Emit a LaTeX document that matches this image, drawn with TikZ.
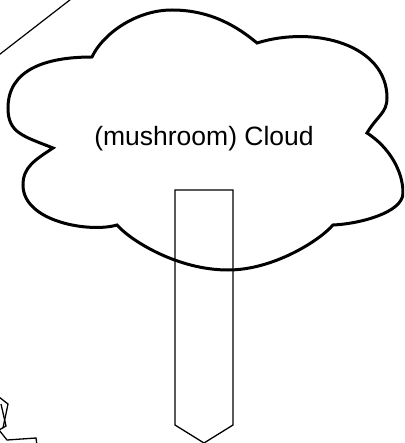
\documentclass[tikz,border=0pt]{standalone}
\usepackage{fontspec}
\setmainfont{Liberation Sans}
\begin{document}
\begin{tikzpicture}[x=1pt,y=-1pt,
  cloudline/.style={draw=black,line width=3pt,line join=miter},
  thinline/.style={draw=black,line width=1.3pt},
  labeltext/.style={font=\fontsize{26.5}{30}\selectfont,anchor=base,inner sep=0pt}]
\useasboundingbox (0,0) rectangle (404,443);
\clip (0,0) rectangle (404,443);
% diagonal line
\coordinate (d1) at (-5,58);
\coordinate (d2) at (75,-4);
\draw[line width=1.2pt] (d1) -- (d2);
% cloud cusps
\coordinate (A) at (53,148);
\coordinate (B) at (92,57);
\coordinate (C) at (257,43);
\coordinate (D) at (367,133);
\coordinate (E) at (333,225);
\coordinate (F) at (117,225);
\draw[cloudline]
  (A) .. controls (23,136) and (8,133) .. (8,108)
      .. controls (8,70) and (45,57) .. (B)
      .. controls (102,35) and (135,10) .. (172,10)
      .. controls (212,10) and (239,28) .. (C)
      .. controls (315,25) and (387,45) .. (387,98)
      .. controls (387,113) and (377,116) .. (D)
      .. controls (389,147) and (403,171) .. (403,193)
      .. controls (403,213) and (358,224) .. (E)
      .. controls (319,241) and (273,270) .. (228,270)
      .. controls (178,270) and (131,241) .. (F)
      .. controls (90,233) and (23,222) .. (23,185)
      .. controls (23,167) and (35,160) .. (A) -- cycle;
\node[labeltext] (lbl) at (204,146) {(mushroom) Cloud};
% stem (signal shape)
\coordinate (s1) at (175,190);
\coordinate (s2) at (233,190);
\coordinate (s3) at (233,425);
\coordinate (s4) at (204,443);
\coordinate (s5) at (175,425);
\draw[thinline,line join=miter] (s1) -- (s2) -- (s3) -- (s4) -- (s5) -- cycle;
% scribble bottom-left
\coordinate (z1) at (-1,397);
\coordinate (z2) at (8,404);
\coordinate (z3) at (3,428);
\coordinate (z4) at (1,404);
\coordinate (z5) at (6,426);
\coordinate (z6) at (-1,430);
\coordinate (z7) at (7,440);
\coordinate (z8) at (36,438);
\coordinate (z9) at (37,445);
\draw[thinline] (z1) -- (z2) -- (z3);
\draw[thinline] (z4) -- (z5) -- (z6);
\draw[thinline] (z6) -- (z7) -- (z8) -- (z9);
\end{tikzpicture}
\end{document}
